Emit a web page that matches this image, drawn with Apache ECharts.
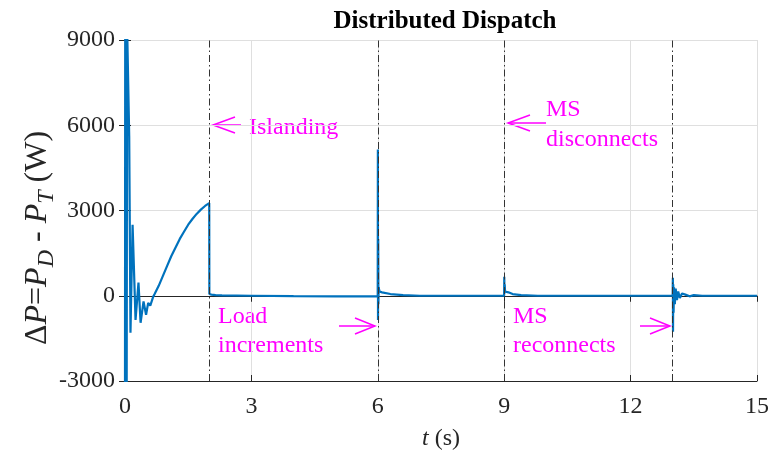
<!DOCTYPE html>
<html><head><meta charset="utf-8">
<script src="https://cdn.jsdelivr.net/npm/echarts@6/dist/echarts.min.js"></script>
<style>html,body{margin:0;padding:0;background:#fff}#c{width:768px;height:452px}</style>
</head><body><div id="c"></div>
<script>
// time (s) and ΔP (W)
const timeS = [0,0.005,0.01,0.015,0.02,0.025,0.03,0.035,0.04,0.05,0.06,0.07,0.08,0.1,0.13,0.18,0.25,0.32,0.37,0.44,0.5,0.55,0.6,0.67,0.7,0.8,0.9,1.0,1.1,1.2,1.3,1.4,1.5,1.6,1.7,1.8,1.9,1.999,2.002,2.05,2.15,2.3,3,4,5,5.998,6.002,6.005,6.01,6.015,6.02,6.04,6.1,6.3,6.6,7,8,8.998,9.002,9.006,9.012,9.02,9.05,9.1,9.2,9.4,9.8,11,12.998,13.003,13.007,13.012,13.02,13.03,13.05,13.07,13.1,13.13,13.17,13.22,13.3,13.4,13.5,13.7,15];
const deltaP = [-3300,9500,-3300,9500,-3300,9500,-3300,9500,-3300,9500,9500,9500,9500,5600,-1300,2500,-850,460,-950,-200,-670,-250,-350,-30,50,350,700,1050,1400,1700,2000,2250,2500,2700,2880,3030,3160,3260,60,40,20,10,0,-15,-20,-15,5150,-850,2000,-300,300,150,120,60,20,0,0,0,670,80,400,150,180,120,60,20,0,0,0,630,-1270,400,-600,300,-300,250,-150,150,-80,80,40,-20,20,0,0];
const eventTimes = [2,6,9,13];
const xTicks = {min:0,max:15,interval:3};
const yTicks = {min:-3000,max:9000,interval:3000};

const seriesData = timeS.map((t,i)=>[t,deltaP[i]]);
const FONT = 'Liberation Serif';
const MAG = '#ff00ff';

const chart = echarts.init(document.getElementById('c'));

const ctx = document.createElement('canvas').getContext('2d');
function w(txt, size, italic){ ctx.font = (italic?'italic ':'') + size + 'px "' + FONT + '"'; return ctx.measureText(txt).width; }
const pieces = [
  {t:'Δ', s:32, i:false, dy:0},
  {t:'P', s:32, i:true, dy:0},
  {t:'=', s:32, i:false, dy:0},
  {t:'P', s:32, i:true, dy:0},
  {t:'D', s:24, i:true, dy:9},
  {t:' - ', s:32, i:false, dy:0},
  {t:'P', s:32, i:true, dy:0},
  {t:'T', s:24, i:true, dy:9},
  {t:' (W)', s:32, i:false, dy:0}
];
let total = 0; pieces.forEach(p=>{p.w=w(p.t,p.s,p.i); total+=p.w;});
let cx = -total/2;
const yLabelChildren = pieces.map(p=>{
  const el = {type:'text', x:cx, y:p.dy, style:{text:p.t, font:(p.i?'italic ':'')+p.s+'px "'+FONT+'"', fill:'#262626', align:'left', verticalAlign:'middle'}};
  cx += p.w; return el;
});

function arrowLeft(tipX, y, len){ return [
  {type:'polyline', shape:{points:[[tipX,y],[tipX+len,y]]}, style:{stroke:MAG, lineWidth:1.5, fill:null}},
  {type:'polyline', shape:{points:[[tipX+22,y-8],[tipX,y],[tipX+22,y+8]]}, style:{stroke:MAG, lineWidth:1.5, fill:null}}
];}
function arrowRight(tipX, y, len){ return [
  {type:'polyline', shape:{points:[[tipX-len,y],[tipX,y]]}, style:{stroke:MAG, lineWidth:1.5, fill:null}},
  {type:'polyline', shape:{points:[[tipX-20,y-8],[tipX,y],[tipX-20,y+8]]}, style:{stroke:MAG, lineWidth:1.5, fill:null}}
];}
function magText(txt, x, baseline){ return {type:'text', x:x, y:baseline+5, style:{text:txt, font:'24px "'+FONT+'"', fill:MAG, align:'left', verticalAlign:'bottom'}}; }

const option = {
  backgroundColor:'#fff',
  animation:false,
  title:{text:'Distributed Dispatch', left:440, top:4, textAlign:'center', textStyle:{fontFamily:FONT, fontWeight:'bold', fontSize:25, color:'#000'}},
  grid:{left:125, right:11, top:40, bottom:71, containLabel:false, outerBoundsMode:'none'},
  xAxis:[{
    type:'value', min:xTicks.min, max:xTicks.max, interval:xTicks.interval,
    axisLine:{show:true, onZero:false, lineStyle:{color:'#262626', width:1}},
    axisTick:{show:true, inside:true, length:6, lineStyle:{color:'#262626'}},
    axisLabel:{fontFamily:FONT, fontSize:24, color:'#262626', margin:14},
    splitLine:{show:true, lineStyle:{color:'#dfdfdf', width:1}},
    name:'{i|t} (s)', nameLocation:'middle', nameGap:46,
    nameTextStyle:{fontFamily:FONT, fontSize:24, color:'#262626', rich:{i:{fontFamily:FONT, fontSize:24, fontStyle:'italic', color:'#262626'}}}
  },{
    type:'value', position:'top', min:xTicks.min, max:xTicks.max, interval:xTicks.interval,
    axisLine:{show:true, lineStyle:{color:'#262626'}}, axisTick:{show:true, inside:true, length:6, lineStyle:{color:'#262626'}},
    axisLabel:{show:false}, splitLine:{show:false}
  }],
  yAxis:[{
    type:'value', min:yTicks.min, max:yTicks.max, interval:yTicks.interval,
    axisLine:{show:true, onZero:false, lineStyle:{color:'#262626', width:1}},
    axisTick:{show:true, inside:true, length:6, lineStyle:{color:'#262626'}},
    axisLabel:{fontFamily:FONT, fontSize:24, color:'#262626', margin:10, formatter:v=>String(v)},
    splitLine:{show:true, lineStyle:{color:'#dfdfdf', width:1}}
  },{
    type:'value', position:'right', min:yTicks.min, max:yTicks.max, interval:yTicks.interval,
    axisLine:{show:true, lineStyle:{color:'#262626'}}, axisTick:{show:true, inside:true, length:6, lineStyle:{color:'#262626'}},
    axisLabel:{show:false}, splitLine:{show:false}
  }],
  series:[{
    type:'line', data:seriesData, showSymbol:false, clip:true, sampling:null,
    lineStyle:{color:'#0072bd', width:2.2}, itemStyle:{color:'#0072bd'},
    markLine:{silent:true, symbol:['none','none'], label:{show:false},
      lineStyle:{color:'#333', width:1, type:[7,3,1.5,3]},
      data:eventTimes.map(t=>({xAxis:t}))}
  }],
  graphic:[
    {type:'group', x:38, y:238, rotation:Math.PI/2, children:yLabelChildren},
    ...arrowLeft(213,125,28), magText('Islanding',249,135),
    ...arrowRight(375,326,36), magText('Load',218,324), magText('increments',218,353),
    ...arrowLeft(508,123,38), magText('MS',546,117), magText('disconnects',546,147),
    ...arrowRight(670,326,30), magText('MS',513,324), magText('reconnects',513,353)
  ]
};
chart.setOption(option);
</script></body></html>
